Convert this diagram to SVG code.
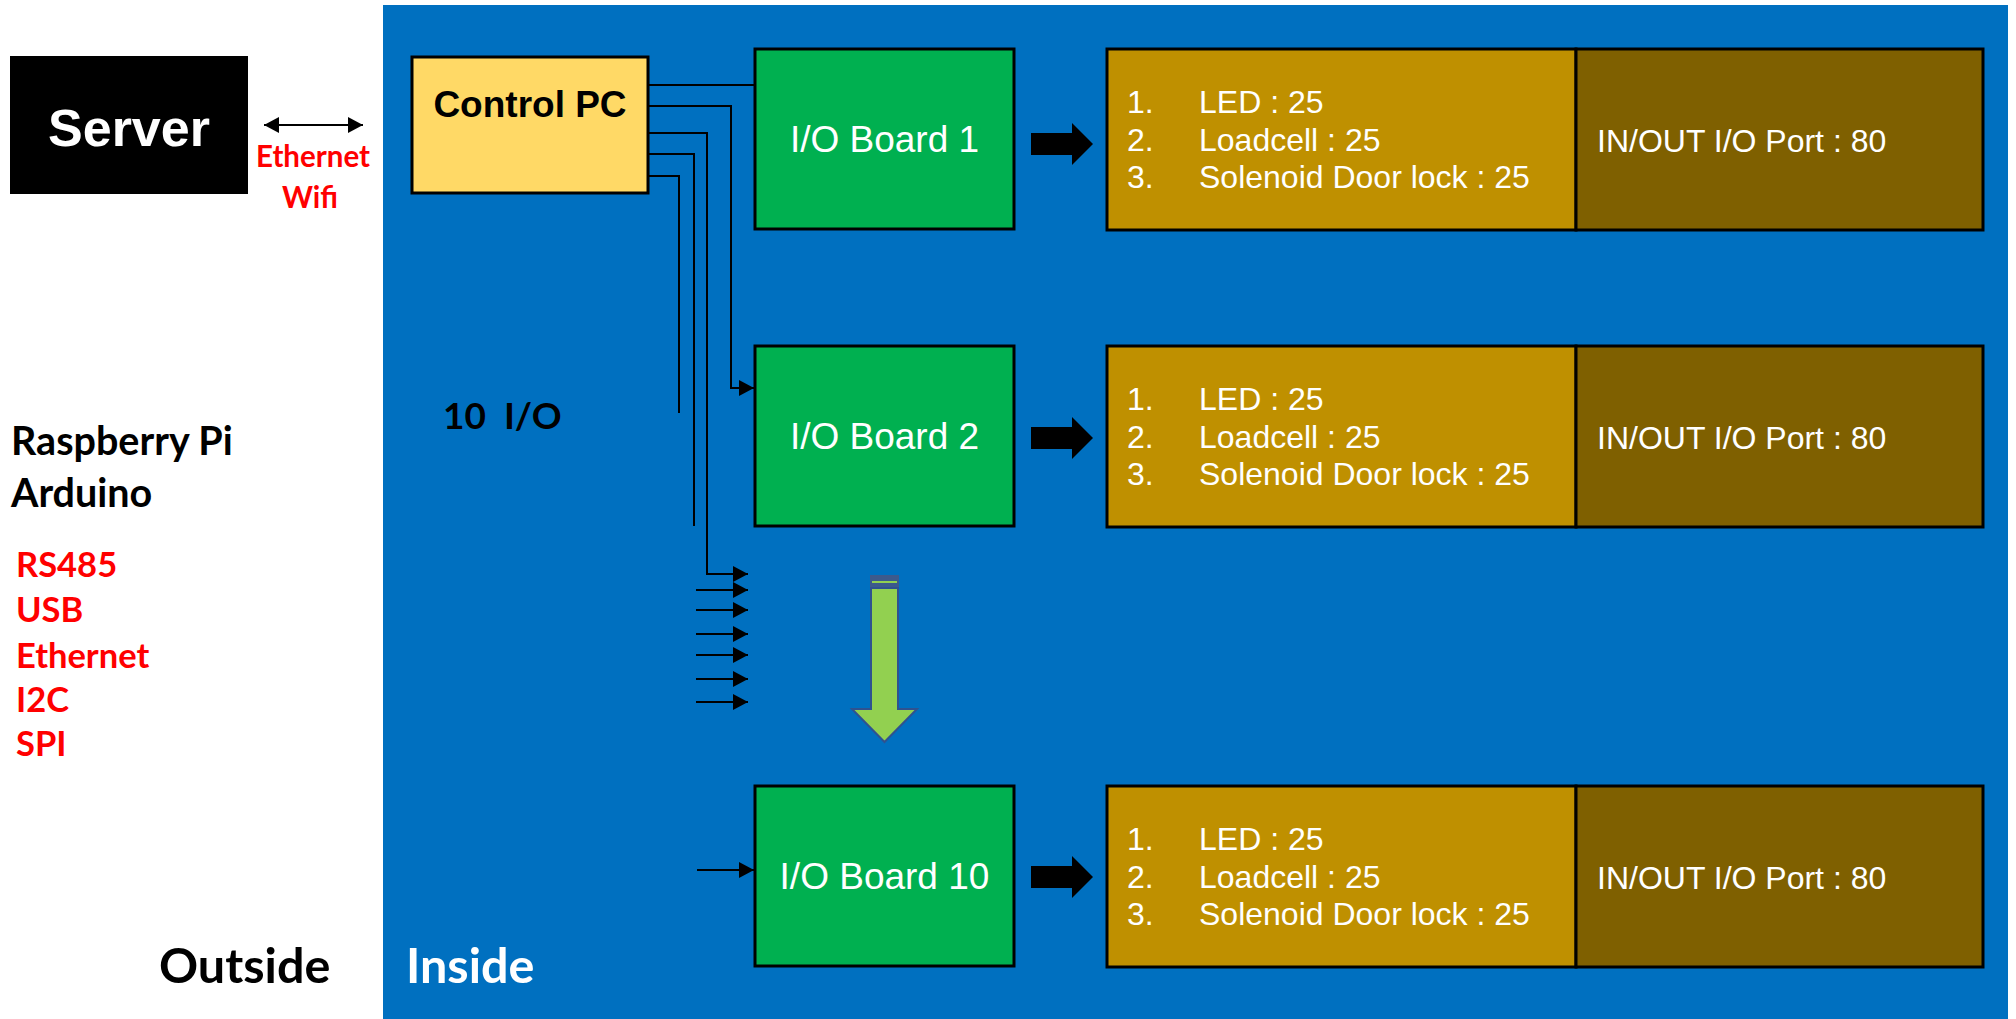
<svg xmlns="http://www.w3.org/2000/svg" width="2016" height="1019" viewBox="0 0 2016 1019">
<style>
.cal{font-family:Lato,"Open Sans","DejaVu Sans",sans-serif;font-weight:bold}
.ar{font-family:"Liberation Sans",Arial,sans-serif}
.red{fill:#FF0000}
.board rect{fill:#00B050;stroke:#000;stroke-width:3}
.board text{fill:#fff;font-size:37px;text-anchor:middle}
.info .l{fill:#BF9000;stroke:#000;stroke-width:3}
.info .r{fill:#7F6000;stroke:#000;stroke-width:3}
.info text{fill:#fff;font-size:32px}
.conn{fill:none;stroke:#000;stroke-width:2}
.big{fill:#000}
</style>
<defs>
<marker id="ah" markerUnits="userSpaceOnUse" markerWidth="16" markerHeight="16" refX="15" refY="8" orient="auto" overflow="visible">
<path d="M0,0 L15,8 L0,16 z" fill="#000"/>
</marker>
<marker id="ah2" markerUnits="userSpaceOnUse" markerWidth="16" markerHeight="18" refX="15" refY="8" orient="auto-start-reverse" overflow="visible">
<path d="M0,0 L15,8 L0,16 z" fill="#000"/>
</marker>
</defs>
<rect x="0" y="0" width="2016" height="1019" fill="#fff"/>
<rect id="inside" x="383" y="5" width="1625" height="1014" fill="#0070C0"/>

<g id="server">
<rect x="10" y="56" width="238" height="138" fill="#000"/>
<text x="129" y="146" class="ar" font-size="52" font-weight="bold" fill="#fff" text-anchor="middle">Server</text>
</g>
<text class="cal red" x="313" y="167" font-size="29.5" text-anchor="middle">Ethernet</text>
<text class="cal red" x="310" y="208" font-size="29.5" text-anchor="middle">Wifi</text>

<g id="control-pc">
<rect x="412" y="57" width="236" height="136" fill="#FFD966" stroke="#000" stroke-width="3"/>
<text x="530" y="117" class="ar" font-size="37" font-weight="bold" fill="#000" text-anchor="middle">Control PC</text>
</g>

<text class="cal" x="11" y="455" font-size="39.5" fill="#000">Raspberry Pi</text>
<text class="cal" x="11" y="507" font-size="39.5" fill="#000">Arduino</text>
<g class="cal red" font-size="34.5">
<text x="16" y="577">RS485</text>
<text x="16" y="622">USB</text>
<text x="16" y="668">Ethernet</text>
<text x="16" y="712">I2C</text>
<text x="16" y="756">SPI</text>
</g>
<text class="cal" x="443" y="429" font-size="37" fill="#000" style="white-space:pre">10  I/O</text>
<text class="cal" x="159" y="983" font-size="48.5" fill="#000">Outside</text>
<text class="cal" x="406" y="983" font-size="48.5" fill="#fff">Inside</text>

<g id="board1" class="board ar"><rect x="755" y="49" width="259" height="180"/><text x="884.5" y="152">I/O Board 1</text></g>
<g id="board2" class="board ar"><rect x="755" y="346" width="259" height="180"/><text x="884.5" y="449">I/O Board 2</text></g>
<g id="board10" class="board ar"><rect x="755" y="786" width="259" height="180"/><text x="884.5" y="889">I/O Board 10</text></g>

<g id="info1" class="info ar">
<rect class="l" x="1107" y="49" width="469" height="181"/>
<rect class="r" x="1576" y="49" width="407" height="181"/>
<text x="1127" y="113">1.</text><text x="1199" y="113">LED : 25</text>
<text x="1127" y="151">2.</text><text x="1199" y="151">Loadcell : 25</text>
<text x="1127" y="188">3.</text><text x="1199" y="188">Solenoid Door lock : 25</text>
<text x="1597" y="152">IN/OUT I/O Port : 80</text>
</g>
<g id="info2" class="info ar">
<rect class="l" x="1107" y="346" width="469" height="181"/>
<rect class="r" x="1576" y="346" width="407" height="181"/>
<text x="1127" y="410">1.</text><text x="1199" y="410">LED : 25</text>
<text x="1127" y="448">2.</text><text x="1199" y="448">Loadcell : 25</text>
<text x="1127" y="485">3.</text><text x="1199" y="485">Solenoid Door lock : 25</text>
<text x="1597" y="449">IN/OUT I/O Port : 80</text>
</g>
<g id="info10" class="info ar">
<rect class="l" x="1107" y="786" width="469" height="181"/>
<rect class="r" x="1576" y="786" width="407" height="181"/>
<text x="1127" y="850">1.</text><text x="1199" y="850">LED : 25</text>
<text x="1127" y="888">2.</text><text x="1199" y="888">Loadcell : 25</text>
<text x="1127" y="925">3.</text><text x="1199" y="925">Solenoid Door lock : 25</text>
<text x="1597" y="889">IN/OUT I/O Port : 80</text>
</g>

<g id="connectors">
<path class="conn" d="M264,125 H363" stroke-width="3" marker-start="url(#ah2)" marker-end="url(#ah2)"/>
<path class="conn" d="M648,85 H755"/>
<path class="conn" d="M648,106 H731 V388 H754" marker-end="url(#ah)"/>
<path class="conn" d="M648,133 H707 V574 H748" marker-end="url(#ah)"/>
<path class="conn" d="M648,154 H694 V526"/>
<path class="conn" d="M648,176 H679 V413"/>
<path class="conn" d="M696,590 H748" marker-end="url(#ah)"/>
<path class="conn" d="M696,610 H748" marker-end="url(#ah)"/>
<path class="conn" d="M696,634 H748" marker-end="url(#ah)"/>
<path class="conn" d="M696,655 H748" marker-end="url(#ah)"/>
<path class="conn" d="M696,679 H748" marker-end="url(#ah)"/>
<path class="conn" d="M696,702 H748" marker-end="url(#ah)"/>
<path class="conn" d="M697,870 H754" marker-end="url(#ah)"/>
<polygon class="big" points="1031,133 1072,133 1072,123 1093,144 1072,165 1072,155 1031,155"/>
<polygon class="big" points="1031,427 1072,427 1072,417 1093,438 1072,459 1072,449 1031,449"/>
<polygon class="big" points="1031,866 1072,866 1072,856 1093,877 1072,898 1072,888 1031,888"/>
<g id="down-arrow">
<rect x="870" y="575" width="29" height="12" fill="#3C5A8C"/>
<rect x="872" y="581" width="25" height="2" fill="#92D050"/>
<polygon points="871,588 898,588 898,709 917,709 884.5,742 852,709 871,709" fill="#92D050" stroke="#2F528F" stroke-width="2"/>
</g>
</g>
</svg>
